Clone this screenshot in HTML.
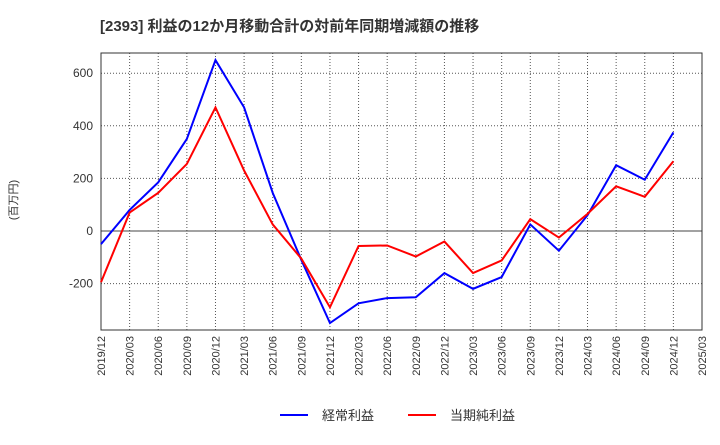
<!DOCTYPE html>
<html><head><meta charset="utf-8"><style>
body{margin:0;background:#fff;font-family:"Liberation Sans","Noto Sans CJK JP",sans-serif;}
</style></head><body>
<svg id="c" width="720" height="440" xmlns="http://www.w3.org/2000/svg">
<text x="100" y="31" font-size="15" font-weight="bold" fill="#333" font-family="Liberation Sans, Noto Sans CJK JP, sans-serif">[2393]  利益の12か月移動合計の対前年同期増減額の推移</text>
<text transform="translate(17,200) rotate(-90)" text-anchor="middle" font-size="11" fill="#333" font-family="Liberation Sans, Noto Sans CJK JP, sans-serif">(百万円)</text>
<g id="grid"></g><g id="axes"></g><g id="series"></g>
<g>
<line x1="280" y1="415" x2="308" y2="415" stroke="#0000ff" stroke-width="2"/>
<text x="322" y="420" font-size="13" fill="#333" font-family="Liberation Sans, Noto Sans CJK JP, sans-serif">経常利益</text>
<line x1="408" y1="415" x2="436" y2="415" stroke="#ff0000" stroke-width="2"/>
<text x="450" y="420" font-size="13" fill="#333" font-family="Liberation Sans, Noto Sans CJK JP, sans-serif">当期純利益</text>
</g>
</svg>
<script>
const categories=["2019/12","2020/03","2020/06","2020/09","2020/12","2021/03","2021/06","2021/09","2021/12","2022/03","2022/06","2022/09","2022/12","2023/03","2023/06","2023/09","2023/12","2024/03","2024/06","2024/09","2024/12","2025/03"];
const ordinaryProfit=[-50,80,185,350,650,470,145,-110,-350,-275,-255,-252,-160,-220,-175,25,-75,60,250,195,375];
const netProfit=[-195,70,145,255,470,230,25,-105,-290,-57,-55,-97,-40,-160,-112,45,-25,65,170,130,265];
const yTicks=[-200,0,200,400,600];
const NS="http://www.w3.org/2000/svg";
const L=101,R=702,T=53,B=330;
const xs=i=>L+(R-L)*i/(categories.length-1);
const ys=v=>231-v*(52.6/200);
function mk(tag,attrs,parent){const e=document.createElementNS(NS,tag);for(const k in attrs)e.setAttribute(k,attrs[k]);document.getElementById(parent).appendChild(e);return e;}
categories.forEach((c,i)=>{
 const g=mk("line",{x1:xs(i),x2:xs(i),y1:T,y2:B,stroke:"#555","stroke-dasharray":"1,2","stroke-width":1},"grid");
 
 
 const t=mk("text",{x:0,y:0,transform:`translate(${xs(i)+4},${B+6}) rotate(-90)`,"text-anchor":"end","font-size":11,fill:"#333"},"axes");
 t.textContent=c;
 
 
});
yTicks.forEach(v=>{
 const g=mk("line",{x1:L,x2:R,y1:ys(v),y2:ys(v),stroke:v===0?"#444":"#555","stroke-dasharray":v===0?"none":"1,2","stroke-width":1},"grid");
 
 
 const t=mk("text",{x:L-8,y:ys(v)+4,"text-anchor":"end","font-size":12,fill:"#333"},"axes");
 t.textContent=v;
 
 
});
const frame=mk("rect",{x:L,y:T,width:R-L,height:B-T,fill:"none",stroke:"#333","stroke-width":1},"axes");


const p1=mk("polyline",{points:ordinaryProfit.map((v,i)=>xs(i)+","+ys(v)).join(" "),fill:"none",stroke:"#0000ff","stroke-width":2},"series");


const p2=mk("polyline",{points:netProfit.map((v,i)=>xs(i)+","+ys(v)).join(" "),fill:"none",stroke:"#ff0000","stroke-width":2},"series");


</script>
</body></html>
